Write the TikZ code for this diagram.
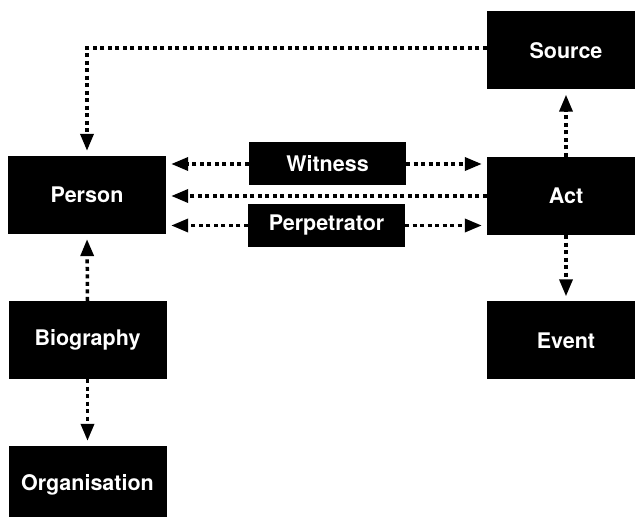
\documentclass[tikz,border=0pt]{standalone}
\usepackage{fontspec}
\setmainfont{TeX Gyre Heros}
\usetikzlibrary{arrows.meta}

\tikzset{
  box/.style={fill=black,text=white,font=\bfseries\fontsize{21.5}{25}\selectfont,
    minimum width=158pt,minimum height=78pt,inner sep=0pt},
  role/.style={box,minimum width=157pt,minimum height=43pt},
  link/.style={line width=3.5pt,dash pattern=on 4pt off 3.5pt,
    -{Triangle[length=17pt,width=13pt]},shorten >=5pt},
}

\begin{document}
\begin{tikzpicture}[x=1pt,y=1pt]
\useasboundingbox (0,0) rectangle (635,517);
\node[box] (Source) at (566,466.5) {Source};
\node[box] (Person) at (87,322) {Person};
\node[box] (Act) at (566,321) {Act};
\node[role] (Witness) at (327.5,353) {Witness};
\node[role] (Perpetrator) at (326.5,291.5) {Perpetrator};
\node[box] (Biography) at (87.5,177) {Biography};
\node[box] (Event) at (566,176.5) {Event};
\node[box] (Organisation) at (87.5,32) {Organisation};
\draw[link] ([yshift=2.5pt]Source.west) -| (Person.north);
\draw[link] (Witness.west) -- (Witness.west -| Person.east);
\draw[link] (Witness.east) -- (Witness.east -| Act.west);
\draw[link] (Act.west) -- (Act.west -| Person.east);
\draw[link] (Perpetrator.west) -- (Perpetrator.west -| Person.east);
\draw[link] (Perpetrator.east) -- (Perpetrator.east -| Act.west);
\draw[link] (Act.north) -- (Source.south);
\draw[link] (Act.south) -- (Event.north);
\draw[link] (Biography.north) -- (Person.south);
\draw[link] (Biography.south) -- (Organisation.north);
\end{tikzpicture}
\end{document}
